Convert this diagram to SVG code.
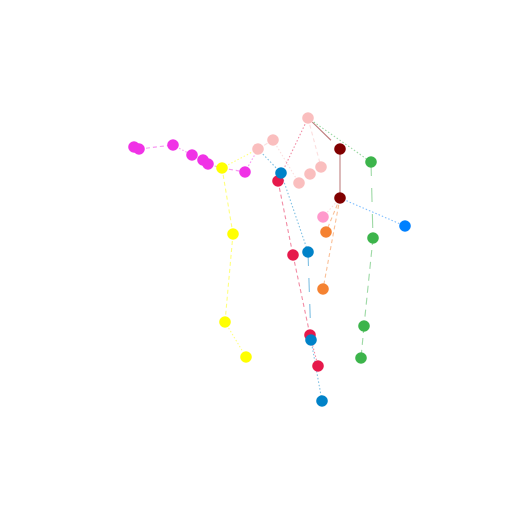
<svg xmlns="http://www.w3.org/2000/svg" width="512" height="512" viewBox="0 0 512 512">
<style>
line{stroke-width:1.1;fill:none;stroke-opacity:0.5}
.dot{stroke-dasharray:1.5,2}
.dash{stroke-dasharray:4,3}
.ldash{stroke-dasharray:14,12}
.m{stroke:#f032e6}.y{stroke:#ffff00}.p{stroke:#fabebe}.b{stroke:#0082c8}.r{stroke:#e6194b}.g{stroke:#3cb44b}.o{stroke:#f58231}.mr{stroke:#800000}.bb{stroke:#0080ff}
circle{r:5.8}
</style>
<rect width="512" height="512" fill="#ffffff"/>
<g id="connectors">
<line class="m dash" x1="139" y1="149" x2="173" y2="145"/>
<line class="m dot" x1="173" y1="145" x2="192" y2="155"/>
<line class="m dash" x1="208" y1="164" x2="222" y2="168"/>
<line class="m dash" x1="222" y1="168" x2="245" y2="172"/>
<line class="m dot" x1="245" y1="172" x2="258" y2="149"/>
<line class="y dot" x1="222" y1="168" x2="258" y2="149"/>
<line class="y dash" x1="222" y1="168" x2="233" y2="234"/>
<line class="y dash" x1="233" y1="234" x2="225" y2="322"/>
<line class="y dot" x1="225" y1="322" x2="246" y2="357"/>
<line class="p dash" x1="258" y1="149" x2="273" y2="140"/>
<line class="p dot" x1="273" y1="140" x2="299" y2="183"/>
<line class="p dash" x1="308" y1="118" x2="321" y2="167"/>
<line class="r dot" x1="308" y1="118" x2="278" y2="181"/>
<line class="mr" stroke-dasharray="0,6,26,20" x1="308" y1="118" x2="340" y2="149"/>
<line class="g dot" x1="308" y1="118" x2="371" y2="162"/>
<line class="b dot" x1="258" y1="149" x2="281" y2="173"/>
<line class="b dot" x1="281" y1="173" x2="308" y2="252"/>
<line class="b ldash" x1="308" y1="252" x2="311" y2="340"/>
<line class="b dot" x1="311" y1="340" x2="322" y2="401"/>
<line class="r dash" x1="278" y1="181" x2="293" y2="255"/>
<line class="r dash" x1="293" y1="255" x2="310" y2="335"/>
<line class="r dot" x1="310" y1="335" x2="318" y2="366"/>
<line class="mr" x1="340" y1="149" x2="340" y2="198"/>
<line class="bb dot" x1="340" y1="198" x2="405" y2="226"/>
<line class="p dot" x1="340" y1="198" x2="323" y2="217"/>
<line class="o dash" x1="340" y1="198" x2="326" y2="232"/>
<line class="o dash" x1="340" y1="198" x2="323" y2="289"/>
<line class="g ldash" x1="371" y1="162" x2="373" y2="238"/>
<line class="g" stroke-dasharray="7,5" x1="373" y1="238" x2="364" y2="326"/>
<line class="g" stroke-dasharray="7,5" x1="364" y1="326" x2="361" y2="358"/>
</g>
<g id="magenta" fill="#f032e6">
<circle cx="134" cy="147"/><circle cx="139" cy="149"/><circle cx="173" cy="145"/><circle cx="192" cy="155"/><circle cx="203" cy="160"/><circle cx="208" cy="164"/><circle cx="245" cy="172"/>
</g>
<g id="yellow" fill="#ffff00">
<circle cx="222" cy="168"/><circle cx="233" cy="234"/><circle cx="225" cy="322"/><circle cx="246" cy="357"/>
</g>
<g id="pink" fill="#fabebe">
<circle cx="258" cy="149"/><circle cx="273" cy="140"/><circle cx="308" cy="118"/><circle cx="321" cy="167"/><circle cx="310" cy="174"/><circle cx="299" cy="183"/>
</g>
<g id="red" fill="#e6194b">
<circle cx="278" cy="181"/><circle cx="293" cy="255"/><circle cx="310" cy="335"/><circle cx="318" cy="366"/>
</g>
<g id="blue" fill="#0082c8">
<circle cx="281" cy="173"/><circle cx="308" cy="252"/><circle cx="311" cy="340"/><circle cx="322" cy="401"/>
</g>
<g id="maroon" fill="#800000">
<circle cx="340" cy="149"/><circle cx="340" cy="198"/>
</g>
<g id="green" fill="#3cb44b">
<circle cx="371" cy="162"/><circle cx="373" cy="238"/><circle cx="364" cy="326"/><circle cx="361" cy="358"/>
</g>
<g id="others">
<circle cx="405" cy="226" fill="#0080ff"/>
<circle cx="323" cy="217" fill="#ff99cc"/>
<circle cx="326" cy="232" fill="#f58231"/>
<circle cx="323" cy="289" fill="#f58231"/>
</g>
</svg>
